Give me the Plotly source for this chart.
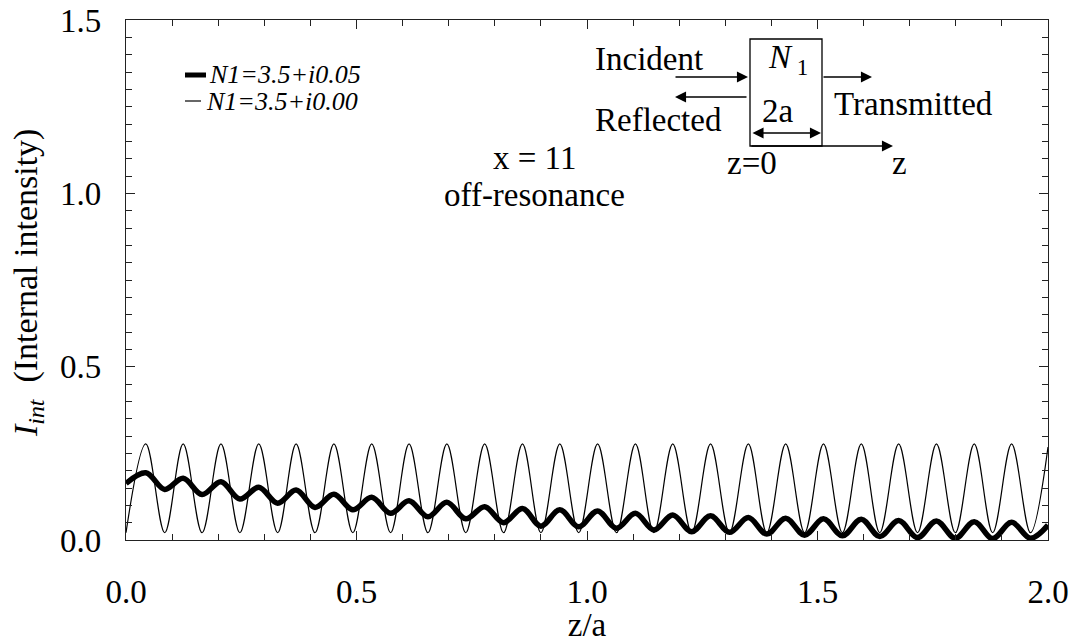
import plotly.graph_objects as go

# ---------------- data ----------------
# thin curve: N1 = 3.5 + i0.00  (alternating troughs / peaks)
z_thin = [0.000, 0.043, 0.084, 0.124, 0.165, 0.206, 0.247, 0.288, 0.329, 0.369,
          0.410, 0.451, 0.492, 0.533, 0.574, 0.614, 0.655, 0.696, 0.737, 0.778,
          0.819, 0.860, 0.900, 0.941, 0.982, 1.023, 1.064, 1.105, 1.145, 1.186,
          1.227, 1.268, 1.309, 1.350, 1.390, 1.431, 1.472, 1.513, 1.554, 1.595,
          1.635, 1.676, 1.717, 1.758, 1.799, 1.840, 1.880, 1.921, 1.962, 2.000]
i_thin = [0.021, 0.277, 0.021, 0.277, 0.021, 0.277, 0.021, 0.277, 0.021, 0.277,
          0.021, 0.277, 0.021, 0.277, 0.021, 0.277, 0.021, 0.277, 0.021, 0.277,
          0.021, 0.277, 0.021, 0.277, 0.021, 0.277, 0.021, 0.277, 0.021, 0.277,
          0.021, 0.277, 0.021, 0.277, 0.021, 0.277, 0.021, 0.277, 0.021, 0.277,
          0.021, 0.277, 0.021, 0.277, 0.021, 0.277, 0.021, 0.277, 0.021, 0.268]

# thick curve: N1 = 3.5 + i0.05
z_thick = z_thin
i_thick = [0.163, 0.194, 0.146, 0.178, 0.131, 0.168, 0.118, 0.152, 0.106, 0.144,
           0.094, 0.132, 0.087, 0.123, 0.077, 0.113, 0.067, 0.109, 0.061, 0.096,
           0.050, 0.091, 0.040, 0.087, 0.038, 0.084, 0.034, 0.077, 0.029, 0.072,
           0.024, 0.070, 0.022, 0.065, 0.017, 0.063, 0.014, 0.061, 0.012, 0.060,
           0.010, 0.056, 0.007, 0.055, 0.005, 0.053, 0.004, 0.051, 0.005, 0.043]

x_ticks = [0.0, 0.5, 1.0, 1.5, 2.0]
y_ticks = [0.0, 0.5, 1.0, 1.5]
legend_labels = ["N1=3.5+i0.05", "N1=3.5+i0.00"]

# ---------------- layout helpers (pixel -> paper) ----------------
W, H = 1079, 643
L, R, T, B = 126, 1048, 20, 540
def px(x):
    return (x - L) / (R - L)
def py(y):
    return (B - y) / (B - T)

FONT = "Liberation Serif, Times New Roman, serif"

fig = go.Figure()
fig.add_trace(go.Scatter(x=z_thin, y=i_thin, mode="lines",
                         line=dict(color="black", width=1.2, shape="spline", smoothing=1.0),
                         name=legend_labels[1], showlegend=False))
fig.add_trace(go.Scatter(x=z_thick, y=i_thick, mode="lines",
                         line=dict(color="black", width=5.5, shape="spline", smoothing=1.0),
                         name=legend_labels[0], showlegend=False))

axis_common = dict(showline=True, linecolor="#222", linewidth=1.3, mirror="allticks",
                   ticks="inside", ticklen=9, tickwidth=1.2, tickcolor="#222",
                   showgrid=False, zeroline=False, tickformat=".1f", automargin=False,
                   tickfont=dict(family=FONT, size=33, color="black"))

fig.update_xaxes(range=[0, 2], tickvals=x_ticks, ticklabelstandoff=22,
                 minor=dict(dtick=0.1, ticks="inside", ticklen=6, tickwidth=1.2,
                            tickcolor="#222", showgrid=False),
                 title=dict(text="z/a", font=dict(family=FONT, size=33, color="black"),
                            standoff=0),
                 **axis_common)
fig.update_yaxes(range=[0, 1.5], tickvals=y_ticks, ticklabelstandoff=17,
                 minor=dict(dtick=0.05, ticks="inside", ticklen=6, tickwidth=1.2,
                            tickcolor="#222", showgrid=False),
                 **axis_common)

shapes = []
annots = []

# legend (manual)
shapes.append(dict(type="line", xref="paper", yref="paper", x0=px(185), x1=px(206),
                   y0=py(75), y1=py(75), line=dict(color="black", width=5)))
shapes.append(dict(type="line", xref="paper", yref="paper", x0=px(185), x1=px(201),
                   y0=py(101), y1=py(101), line=dict(color="black", width=1.2)))
lf = dict(family=FONT, size=26, color="black")
annots.append(dict(xref="paper", yref="paper", x=px(207), y=py(75), xanchor="left",
                   yanchor="middle", text="<i>" + legend_labels[0] + "</i>", showarrow=False,
                   font=lf))
annots.append(dict(xref="paper", yref="paper", x=px(204), y=py(101), xanchor="left",
                   yanchor="middle", text="<i>" + legend_labels[1] + "</i>", showarrow=False,
                   font=lf))

# y-axis title
annots.append(dict(xref="paper", yref="paper", x=px(28), y=py(283), xanchor="center",
                   yanchor="middle", textangle=-90, showarrow=False,
                   text="<i>I</i><sub><i>int</i></sub>  (Internal intensity)",
                   font=dict(family=FONT, size=34, color="black")))

# center texts
tf = dict(family=FONT, size=33, color="black")
annots.append(dict(xref="paper", yref="paper", x=px(534), y=py(158), text="x = 11",
                   showarrow=False, font=tf, xanchor="center", yanchor="middle"))
annots.append(dict(xref="paper", yref="paper", x=px(534), y=py(195), text="off-resonance",
                   showarrow=False, font=tf, xanchor="center", yanchor="middle"))

# inset schematic
shapes.append(dict(type="rect", xref="paper", yref="paper", x0=px(750), x1=px(822),
                   y0=py(146), y1=py(39), line=dict(color="black", width=1.3)))
annots.append(dict(xref="paper", yref="paper", x=px(593), y=py(59), text="Incident",
                   showarrow=False, font=tf, xanchor="left", yanchor="middle"))
annots.append(dict(xref="paper", yref="paper", x=px(593), y=py(120), text="Reflected",
                   showarrow=False, font=tf, xanchor="left", yanchor="middle"))
annots.append(dict(xref="paper", yref="paper", x=px(832), y=py(104), text="Transmitted",
                   showarrow=False, font=tf, xanchor="left", yanchor="middle"))
annots.append(dict(xref="paper", yref="paper", x=px(778), y=py(111), text="2a",
                   showarrow=False, font=tf, xanchor="center", yanchor="middle"))
annots.append(dict(xref="paper", yref="paper", x=px(788), y=py(60),
                   text="<i>N</i><sub> 1</sub>",
                   showarrow=False, font=tf, xanchor="center", yanchor="middle"))
annots.append(dict(xref="paper", yref="paper", x=px(752), y=py(163), text="z=0",
                   showarrow=False, font=tf, xanchor="center", yanchor="middle"))
annots.append(dict(xref="paper", yref="paper", x=px(899), y=py(163), text="z",
                   showarrow=False, font=tf, xanchor="center", yanchor="middle"))

def arrow(hx, hy, tx, ty, both=False):
    return dict(xref="paper", yref="paper", x=px(hx), y=py(hy), ax=tx - hx, ay=ty - hy,
                text="", showarrow=True, arrowhead=2, arrowsize=1.7, arrowwidth=1.3,
                arrowcolor="black", standoff=0, startstandoff=0,
                arrowside="end+start" if both else "end", startarrowhead=2,
                startarrowsize=1.7)

annots.append(arrow(748, 77, 674, 77))
annots.append(arrow(675, 97, 748, 97))
annots.append(arrow(872, 77, 822, 77))
annots.append(arrow(893, 146, 750, 146))
annots.append(arrow(821, 133, 751, 133, both=True))

fig.update_layout(width=W, height=H, margin=dict(l=L, r=W - R, t=T, b=H - B),
                  plot_bgcolor="white", paper_bgcolor="white",
                  shapes=shapes, annotations=annots,
                  font=dict(family=FONT, color="black"))

fig.write_html("out.html")
